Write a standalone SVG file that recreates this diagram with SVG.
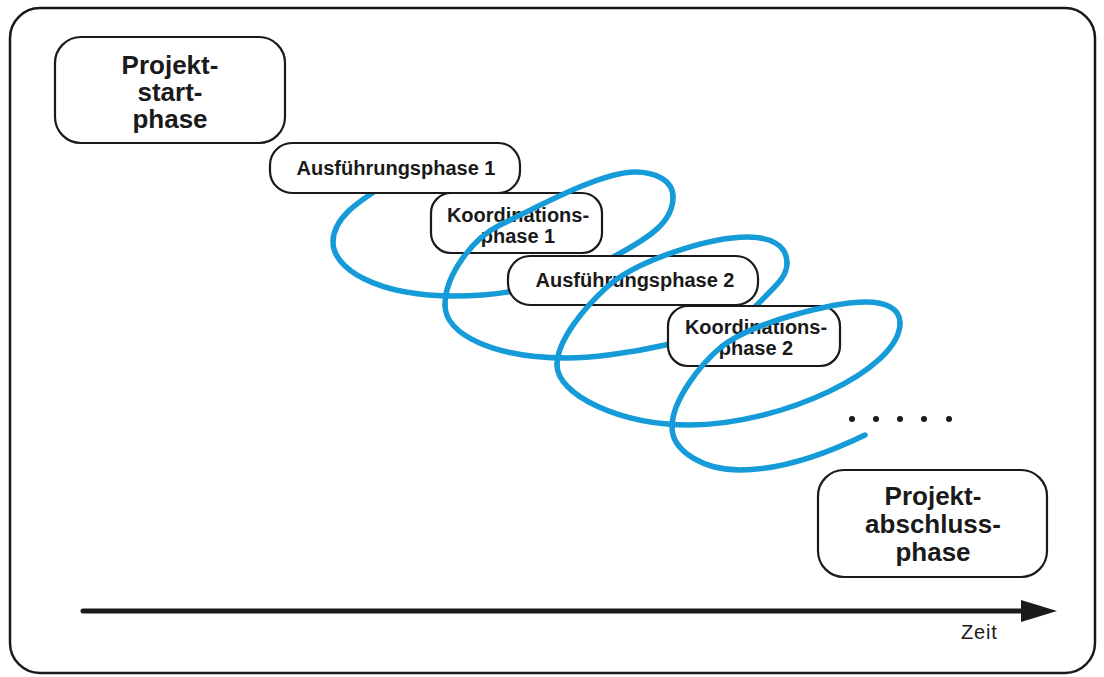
<svg xmlns="http://www.w3.org/2000/svg" width="1104" height="677" viewBox="0 0 1104 677">
  <defs>
    <style>
      .frame { fill: #ffffff; stroke: #1a1a1a; stroke-width: 2.5; }
      .box { fill: #ffffff; stroke: #1a1a1a; stroke-width: 2.2; }
      .coil { fill: none; stroke: #149bd8; stroke-width: 5.5; stroke-linecap: round; stroke-linejoin: round; }
      .big { font-family: "Liberation Sans", Arial, sans-serif; font-weight: bold; font-size: 26px; fill: #1a1a1a; text-anchor: middle; }
      .small { font-family: "Liberation Sans", Arial, sans-serif; font-weight: bold; font-size: 20px; fill: #1a1a1a; text-anchor: middle; }
      .axis-label { font-family: "Liberation Sans", Arial, sans-serif; font-size: 20px; letter-spacing: 0.8px; fill: #1a1a1a; }
      .dot { fill: #1a1a1a; }
    </style>
  </defs>

  <!-- outer frame -->
  <rect class="frame" x="10" y="8" width="1085" height="665" rx="30" ry="30"/>

  <!-- coil: front arcs, passing behind the boxes -->
  <g id="coil-under">
    <path class="coil" d="M392,180 C365,198 333,215 333,242 C333,268 375,296 455,296 C520,296 575,278 617,255 C650,237 673,222 673,197"/>
    <path class="coil" d="M445,305 C445,335 495,358 567,358 C610,358 723,341 757,305 C774,287 787,278 787,263"/>
    <path class="coil" d="M557,365 C557,395 620,425 690,425 C780,425 900,370 900,323"/>
  </g>

  <!-- phases -->
  <g id="node-projektstart">
    <rect class="box" x="55" y="37" width="230" height="106" rx="26" ry="26"/>
    <text class="big" x="170" y="74">Projekt-</text>
    <text class="big" x="170" y="101">start-</text>
    <text class="big" x="170" y="128">phase</text>
  </g>

  <g id="node-ausfuehrung-1">
    <rect class="box" x="270" y="143" width="250" height="50" rx="22" ry="22"/>
    <text class="small" x="396" y="175">Ausführungsphase 1</text>
  </g>

  <g id="node-koordination-1">
    <rect class="box" x="431" y="193" width="171" height="60" rx="20" ry="20"/>
    <text class="small" x="518" y="222">Koordinations-</text>
    <text class="small" x="518" y="243">phase 1</text>
  </g>

  <g id="node-ausfuehrung-2">
    <rect class="box" x="508" y="256" width="250" height="49" rx="22" ry="22"/>
    <text class="small" x="635" y="287">Ausführungsphase 2</text>
  </g>

  <g id="node-koordination-2">
    <rect class="box" x="668" y="306" width="172" height="60" rx="20" ry="20"/>
    <text class="small" x="756" y="334">Koordinations-</text>
    <text class="small" x="756" y="355">phase 2</text>
  </g>

  <g id="node-projektabschluss">
    <rect class="box" x="818" y="470" width="229" height="107" rx="26" ry="26"/>
    <text class="big" x="933" y="505">Projekt-</text>
    <text class="big" x="933" y="533">abschluss-</text>
    <text class="big" x="933" y="561">phase</text>
  </g>

  <!-- coil: back arcs, drawn over the boxes -->
  <g id="coil-over">
    <path class="coil" d="M673,197 C673,180 655,172 635,172 C600,172 536,208 500,225 C473,238 445,275 445,305"/>
    <path class="coil" d="M787,263 C787,245 770,237 748,237 C710,237 637,260 607,287 C585,307 557,340 557,365"/>
    <path class="coil" d="M900,323 C900,308 885,302 866,302 C835,302 751,322 720,348 C701,364 672,400 672,427 C672,452 705,470 740,470 C785,470 830,452 865,435"/>
  </g>

  <!-- continuation dots -->
  <g id="continuation">
    <circle class="dot" cx="852" cy="419" r="3"/>
    <circle class="dot" cx="876" cy="419" r="3"/>
    <circle class="dot" cx="900" cy="419" r="3"/>
    <circle class="dot" cx="924" cy="419" r="3"/>
    <circle class="dot" cx="949" cy="419" r="3"/>
  </g>

  <!-- time axis -->
  <g id="connectors">
    <line x1="83" y1="611" x2="1024" y2="611" stroke="#1a1a1a" stroke-width="5" stroke-linecap="round"/>
    <polygon points="1021,600 1057,611 1021,622" fill="#1a1a1a"/>
    <text class="axis-label" x="961" y="639">Zeit</text>
  </g>
</svg>
